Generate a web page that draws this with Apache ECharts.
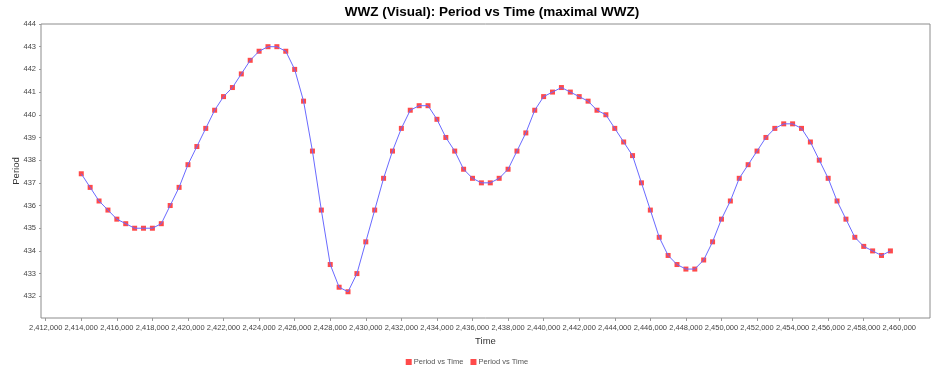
<!DOCTYPE html>
<html><head><meta charset="utf-8">
<script src="https://cdn.jsdelivr.net/npm/echarts@6/dist/echarts.min.js"></script>
<style>html,body{margin:0;padding:0;background:#fff}#c{width:936px;height:366px}</style>
</head><body><div id="c"></div>
<script>
const titleText = 'WWZ (Visual): Period vs Time (maximal WWZ)';
const xName = 'Time';
const yName = 'Period';
const seriesNames = ['Period vs Time', 'Period vs Time '];
const xTickMin = 2412000, xTickMax = 2460000, xTickStep = 2000;
const yTickMin = 432, yTickMax = 444, yTickStep = 1;

const times = [
 2414000,2414500,2415000,2415500,2416000,2416500,2417000,2417500,2418000,2418500,
 2419000,2419500,2420000,2420500,2421000,2421500,2422000,2422500,2423000,2423500,
 2424000,2424500,2425000,2425500,2426000,2426500,2427000,2427500,2428000,2428500,
 2429000,2429500,2430000,2430500,2431000,2431500,2432000,2432500,2433000,2433500,
 2434000,2434500,2435000,2435500,2436000,2436500,2437000,2437500,2438000,2438500,
 2439000,2439500,2440000,2440500,2441000,2441500,2442000,2442500,2443000,2443500,
 2444000,2444500,2445000,2445500,2446000,2446500,2447000,2447500,2448000,2448500,
 2449000,2449500,2450000,2450500,2451000,2451500,2452000,2452500,2453000,2453500,
 2454000,2454500,2455000,2455500,2456000,2456500,2457000,2457500,2458000,2458500,
 2459000,2459500
];
const periods = [
 437.4,436.8,436.2,435.8,435.4,435.2,435.0,435.0,435.0,435.2,
 436.0,436.8,437.8,438.6,439.4,440.2,440.8,441.2,441.8,442.4,
 442.8,443.0,443.0,442.8,442.0,440.6,438.4,435.8,433.4,432.4,
 432.2,433.0,434.4,435.8,437.2,438.4,439.4,440.2,440.4,440.4,
 439.8,439.0,438.4,437.6,437.2,437.0,437.0,437.2,437.6,438.4,
 439.2,440.2,440.8,441.0,441.2,441.0,440.8,440.6,440.2,440.0,
 439.4,438.8,438.2,437.0,435.8,434.6,433.8,433.4,433.2,433.2,
 433.6,434.4,435.4,436.2,437.2,437.8,438.4,439.0,439.4,439.6,
 439.6,439.4,438.8,438.0,437.2,436.2,435.4,434.6,434.2,434.0,
 433.8,434.0
];

const FONT = "'Liberation Sans',Arial,sans-serif";
const pts = times.map((t, i) => [t, periods[i]]);
const chart = echarts.init(document.getElementById('c'), null, {renderer: 'canvas'});
chart.setOption({
  animation: false,
  backgroundColor: '#fff',
  title: {
    text: titleText, left: 487, textAlign: 'center', top: 0,
    textStyle: {fontFamily: FONT, fontWeight: 'bold', fontSize: 13.5, color: '#000'}
  },
  legend: {
    left: 'center', top: 353, itemWidth: 6, itemHeight: 6, itemGap: 7,
    textStyle: {fontFamily: FONT, fontSize: 7.5, color: '#555', padding: [0, 0, 0, -3]},
    data: seriesNames.map(n => ({name: n, icon: 'rect', itemStyle: {color: '#ff4a4a'}}))
  },
  grid: [
    {left: 41, top: 24, right: 6, bottom: 48, show: true, borderColor: '#8c8c8c', borderWidth: 1, backgroundColor: '#fff'},
    {left: 45.7, top: 24, right: 36.7, bottom: 69.7}
  ],
  xAxis: [
    {gridIndex: 0, type: 'value', min: 0, max: 1, name: xName, nameLocation: 'middle', nameGap: 18,
     nameTextStyle: {fontFamily: FONT, fontSize: 9.5, color: '#333'},
     axisLine: {show: false}, axisTick: {show: false}, axisLabel: {show: false}, splitLine: {show: false}},
    {gridIndex: 1, type: 'value', min: xTickMin, max: xTickMax, interval: xTickStep, offset: 21.7,
     axisLine: {show: false}, axisTick: {show: true, length: 3, lineStyle: {color: '#999'}},
     axisLabel: {fontFamily: FONT, fontSize: 7.5, color: '#444', margin: 6, showMinLabel: true, showMaxLabel: true,
                 hideOverlap: false, formatter: v => v.toLocaleString('en-US')},
     splitLine: {show: false}}
  ],
  yAxis: [
    {gridIndex: 0, type: 'value', min: 0, max: 1, name: yName, nameLocation: 'middle', nameGap: 20,
     nameTextStyle: {fontFamily: FONT, fontSize: 9.5, color: '#333'},
     axisLine: {show: false}, axisTick: {show: false}, axisLabel: {show: false}, splitLine: {show: false}},
    {gridIndex: 1, type: 'value', min: yTickMin, max: yTickMax, interval: yTickStep, offset: 4.7,
     axisLine: {show: false}, axisTick: {show: true, length: 2, lineStyle: {color: '#999'}},
     axisLabel: {fontFamily: FONT, fontSize: 7.5, color: '#444', margin: 5, showMinLabel: true, showMaxLabel: true},
     splitLine: {show: false}}
  ],
  series: [
    {name: seriesNames[0], type: 'scatter', xAxisIndex: 1, yAxisIndex: 1, data: pts,
     symbol: 'rect', symbolSize: 5, itemStyle: {color: '#ff4a4a', opacity: 1}, z: 2},
    {name: seriesNames[1], type: 'line', xAxisIndex: 1, yAxisIndex: 1, data: pts,
     showSymbol: false, symbol: 'none', lineStyle: {color: '#6a6aff', width: 1}, z: 3}
  ]
});
</script></body></html>
